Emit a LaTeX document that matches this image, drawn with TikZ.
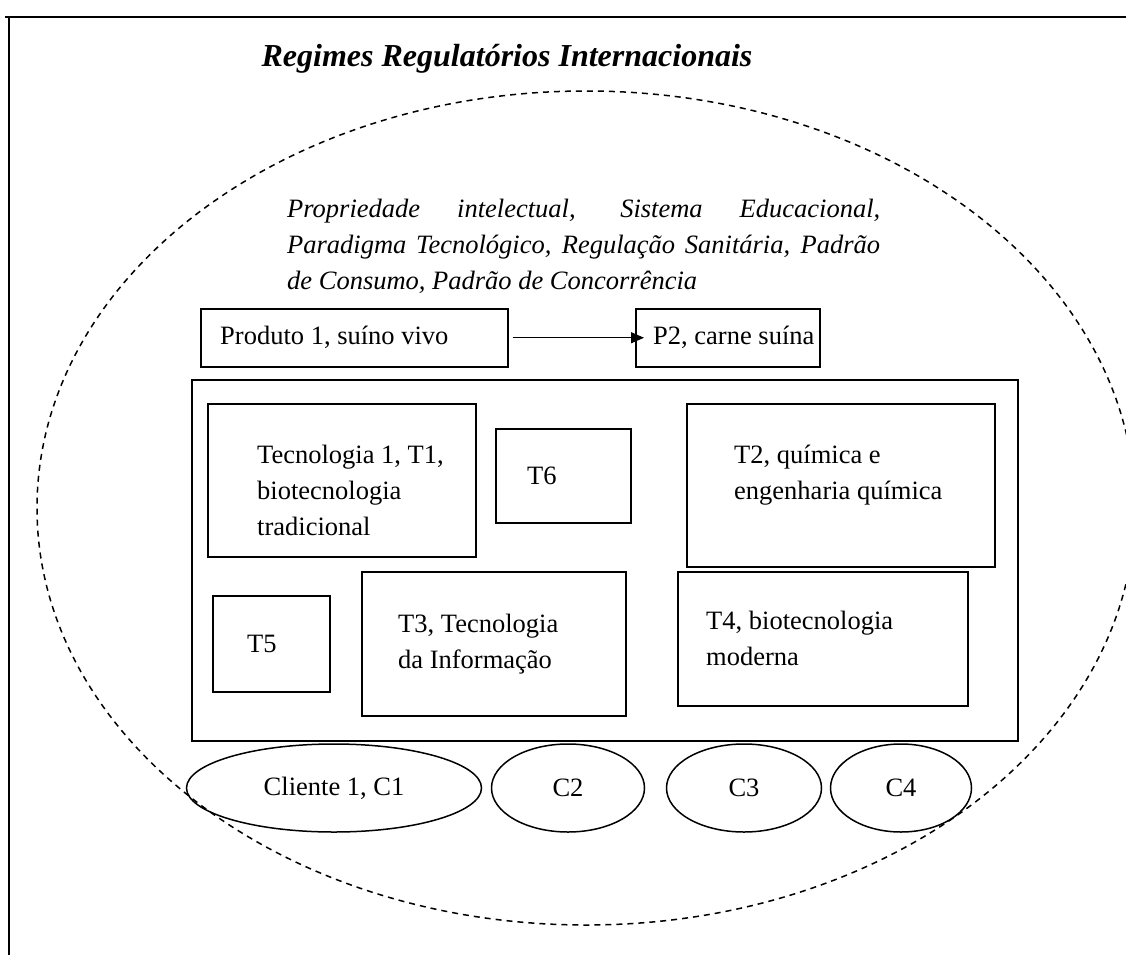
\documentclass[tikz,border=0pt]{standalone}
\usepackage{fontspec}
\setmainfont{Liberation Serif}
\usetikzlibrary{positioning,shapes.geometric,arrows.meta}
\tikzset{
  box/.style={draw, line width=1.5pt, anchor=north west, inner sep=0pt},
  lbl/.style={inner sep=0pt, align=left},
  cli/.style={draw, ellipse, line width=1.5pt, inner sep=0pt, minimum height=88pt},
}
\begin{document}
\begin{tikzpicture}[x=1pt,y=-1pt,font=\fontsize{26.5}{36}\selectfont]
    \useasboundingbox (0,0) rectangle (1126,955);
    \draw[line width=2.5pt] (5,17) -- (1126,17);
    \draw[line width=2pt] (9,17) -- (9,955);
    \node[font=\fontsize{32}{36}\selectfont\bfseries\itshape] (titulo) at (507,59) {Regimes Regulatórios Internacionais};
    \draw[dash pattern=on 6pt off 5pt, line width=1.5pt] (586,508) ellipse [x radius=549, y radius=417];
    \node[lbl, anchor=base west, font=\fontsize{26.5}{36}\selectfont\itshape] (regras) at (287,289)
        {\makebox[593pt][s]{Propriedade intelectual, Sistema Educacional,}\\
         \makebox[593pt][s]{Paradigma Tecnológico, Regulação Sanitária, Padrão}\\
         de Consumo, Padrão de Concorrência};
    \node[box, minimum width=307, minimum height=58] (prod) at (200,308) {};
    \node[lbl, right=20pt of prod.west] {Produto 1, suíno vivo};
    \node[box, minimum width=184, minimum height=58] (p2) at (635,308) {};
    \node[lbl, right=18pt of p2.west] {P2, carne suína};
    \draw[-{Triangle[length=13pt,width=11pt]}, line width=1.2pt] ([shift={(4pt,0pt)}]prod.east) -- ([shift={(9pt,0pt)}]p2.west);
    \node[box, minimum width=826, minimum height=361] (tec) at (191,379) {};
    \node[box, minimum width=268, minimum height=153] (t1) at (207,403) {};
    \node[lbl, right=50pt of t1.west, yshift=-10pt] {Tecnologia 1, T1,\\biotecnologia\\tradicional};
    \node[box, minimum width=135, minimum height=94] (t6) at (495,428) {};
    \node[lbl, right=32pt of t6.west] {T6};
    \node[box, minimum width=308, minimum height=163] (t2) at (686,403) {};
    \node[lbl, right=48pt of t2.west, yshift=10pt] {T2, química e\\engenharia química};
    \node[box, minimum width=117, minimum height=96] (t5) at (212,595) {};
    \node[lbl, right=35pt of t5.west] {T5};
    \node[box, minimum width=264, minimum height=144] (t3) at (361,571) {};
    \node[lbl, right=37pt of t3.west] {T3, Tecnologia\\da Informação};
    \node[box, minimum width=290, minimum height=134] (t4) at (677,571) {};
    \node[lbl, right=29pt of t4.west] {T4, biotecnologia\\moderna};
    \node[cli, minimum width=295] (c1) at (334,788) {Cliente 1, C1};
    \node[cli, minimum width=153] (c2) at (568,788) {C2};
    \node[cli, minimum width=155] (c3) at (744,788) {C3};
    \node[cli, minimum width=141] (c4) at (901,788) {C4};
\end{tikzpicture}
\end{document}
